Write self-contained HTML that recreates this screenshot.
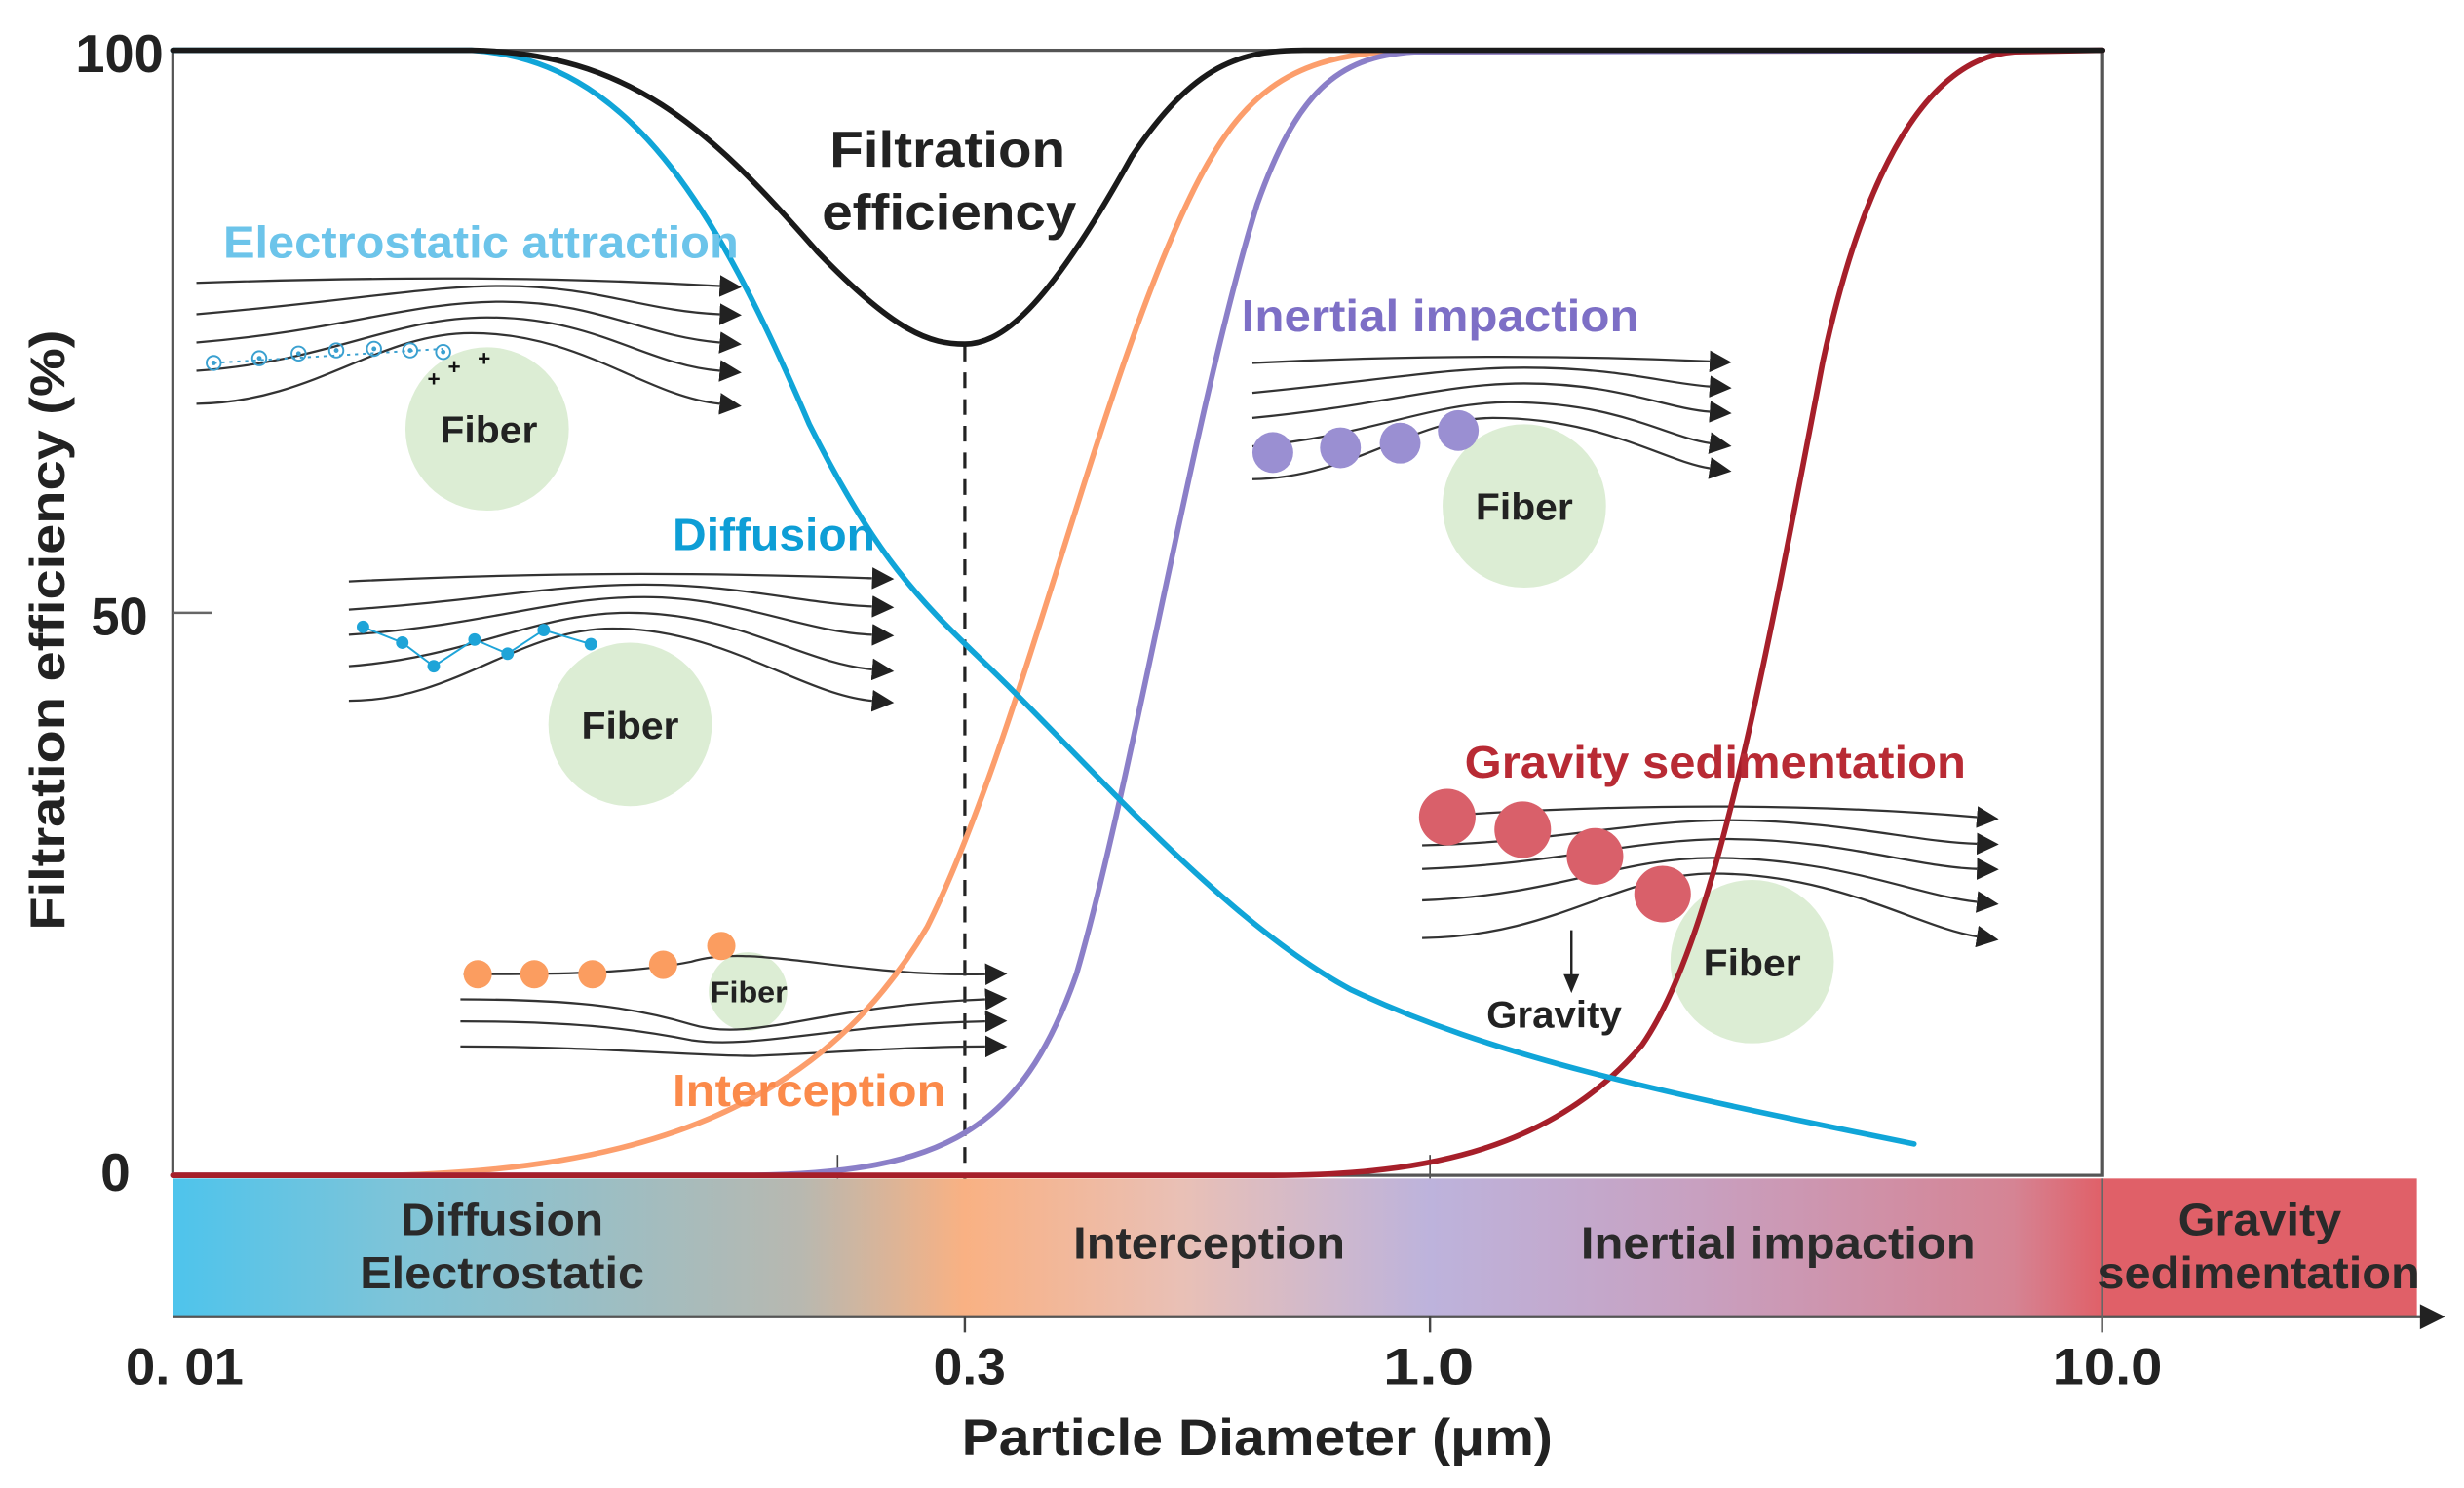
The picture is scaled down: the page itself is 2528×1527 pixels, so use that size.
<!DOCTYPE html>
<html><head><meta charset="utf-8"><style>
html,body{margin:0;padding:0;background:#fff;}
svg{display:block;}
text{font-family:"Liberation Sans",Arial,sans-serif;font-weight:bold;}
</style></head><body>
<svg width="2528" height="1527" viewBox="0 0 1568 947" preserveAspectRatio="none" xmlns="http://www.w3.org/2000/svg">
<defs>
<linearGradient id="bar" x1="110" y1="0" x2="1538" y2="0" gradientUnits="userSpaceOnUse">
<stop offset="0" stop-color="#4ec4ec"/>
<stop offset="0.1" stop-color="#7ec4d8"/>
<stop offset="0.28" stop-color="#b8b8b0"/>
<stop offset="0.353" stop-color="#f9b183"/>
<stop offset="0.45" stop-color="#e9c0b6"/>
<stop offset="0.56" stop-color="#bdb3dc"/>
<stop offset="0.68" stop-color="#c8a0c0"/>
<stop offset="0.82" stop-color="#d58494"/>
<stop offset="0.86" stop-color="#e06068"/>
<stop offset="1" stop-color="#e06068"/>
</linearGradient>
<marker id="ah2" viewBox="0 0 10 10" refX="0" refY="5" markerWidth="14" markerHeight="14" orient="auto" markerUnits="userSpaceOnUse"><path d="M0,0 L10,5 L0,10 z" fill="#222"/></marker>
</defs>

<rect x="110" y="750" width="1428" height="88" fill="url(#bar)"/>
<line x1="110" y1="838" x2="1545" y2="838" stroke="#555" stroke-width="2"/>
<path d="M1540,830 L1556,838 L1540,846 z" fill="#222"/>
<line x1="614" y1="838" x2="614" y2="848" stroke="#444" stroke-width="1.5"/>
<line x1="910" y1="838" x2="910" y2="848" stroke="#444" stroke-width="1.5"/>
<line x1="1338" y1="750" x2="1338" y2="848" stroke="#666" stroke-width="1"/>
<line x1="910" y1="735" x2="910" y2="750" stroke="#444" stroke-width="1"/>
<line x1="533" y1="735" x2="533" y2="750" stroke="#444" stroke-width="1"/>

<rect x="110" y="32" width="1228" height="716" fill="none" stroke="#555" stroke-width="2"/>
<line x1="110" y1="390" x2="135" y2="390" stroke="#666" stroke-width="1.5"/>

<line x1="614" y1="220" x2="614" y2="750" stroke="#222" stroke-width="2" stroke-dasharray="10,7"/>

<circle cx="310" cy="273" r="52" fill="#dcedd4"/>
<circle cx="401" cy="461" r="52" fill="#dcedd4"/>
<circle cx="476" cy="631" r="25" fill="#dcedd4"/>
<circle cx="970" cy="322" r="52" fill="#dcedd4"/>
<circle cx="1115" cy="612" r="52" fill="#dcedd4"/>

<g fill="none" stroke="#333" stroke-width="1.4" marker-end="url(#ah2)">
<path d="M125,180 C250,176 350,176 458,182"/>
<path d="M125,200 C220,192 270,182 320,182 C380,182 410,198 458,200"/>
<path d="M125,218 C220,210 260,192 320,192 C380,192 410,214 458,218"/>
<path d="M125,236 C210,230 250,202 310,202 C380,202 410,232 458,236"/>
<path d="M125,257 C200,256 240,212 300,212 C370,212 410,252 458,257"/>
<path d="M222,370 C350,364 440,364 555,368"/>
<path d="M222,388 C310,382 350,372 410,372 C470,372 510,384 555,386"/>
<path d="M222,404 C310,398 350,380 410,380 C470,380 510,402 555,404"/>
<path d="M222,424 C300,418 340,390 400,390 C470,390 510,422 555,426"/>
<path d="M222,446 C290,446 330,400 390,400 C460,400 510,442 555,446"/>
<path d="M295,620 C350,620 400,620 440,612 C480,600 540,622 627,620"/>
<path d="M293,636 C360,636 400,640 440,652 C480,664 520,640 627,636"/>
<path d="M293,650 C360,650 400,654 440,662 C480,668 530,652 627,650"/>
<path d="M293,666 C380,666 440,672 480,672 C530,670 580,666 627,666"/>
<path d="M797,231 C900,226 1000,226 1088,230"/>
<path d="M797,250 C880,242 920,234 970,234 C1030,234 1060,244 1088,246"/>
<path d="M797,266 C880,258 920,244 970,244 C1030,244 1060,260 1088,262"/>
<path d="M797,284 C870,278 910,256 960,256 C1030,256 1060,278 1088,282"/>
<path d="M797,305 C860,304 900,266 950,266 C1020,266 1060,294 1088,298"/>
<path d="M905,520 C1020,512 1140,510 1258,520"/>
<path d="M905,538 C990,536 1040,522 1100,522 C1170,522 1220,536 1258,537"/>
<path d="M905,553 C990,550 1040,534 1100,534 C1170,534 1220,552 1258,553"/>
<path d="M905,573 C990,570 1030,546 1090,546 C1170,546 1220,570 1258,574"/>
<path d="M905,597 C990,596 1030,556 1090,556 C1170,556 1220,590 1258,596"/>
</g>

<g fill="none" stroke="#3aa0d0" stroke-width="1.2">
<path d="M136,231 L282,222" stroke-dasharray="2,3"/>
<circle cx="136" cy="231" r="4.5"/><circle cx="165" cy="228" r="4.5"/><circle cx="190" cy="225" r="4.5"/><circle cx="214" cy="223" r="4.5"/><circle cx="238" cy="222" r="4.5"/><circle cx="261" cy="223" r="4.5"/><circle cx="282" cy="224" r="4.5"/>
</g>
<g fill="#3aa0d0"><circle cx="136" cy="231" r="1.5"/><circle cx="165" cy="228" r="1.5"/><circle cx="190" cy="225" r="1.5"/><circle cx="214" cy="223" r="1.5"/><circle cx="238" cy="222" r="1.5"/><circle cx="261" cy="223" r="1.5"/><circle cx="282" cy="224" r="1.5"/></g>
<text x="272" y="246" font-size="14" fill="#111">+</text>
<text x="285" y="238" font-size="14" fill="#111">+</text>
<text x="304" y="233" font-size="14" fill="#111">+</text>

<polyline points="231,399 256,409 276,424 302,407 323,416 346,401 376,410" fill="none" stroke="#1ea4d8" stroke-width="1.2"/>
<g fill="#1ea4d8"><circle cx="231" cy="399" r="4"/><circle cx="256" cy="409" r="4"/><circle cx="276" cy="424" r="4"/><circle cx="302" cy="407" r="4"/><circle cx="323" cy="416" r="4"/><circle cx="346" cy="401" r="4"/><circle cx="376" cy="410" r="4"/></g>

<g fill="#fb9d60"><circle cx="304" cy="620" r="9"/><circle cx="340" cy="620" r="9"/><circle cx="377" cy="620" r="9"/><circle cx="422" cy="614" r="9"/><circle cx="459" cy="602" r="9"/></g>
<g fill="#9a8fd2"><circle cx="810" cy="288" r="13"/><circle cx="853" cy="285" r="13"/><circle cx="891" cy="282" r="13"/><circle cx="928" cy="274" r="13"/></g>
<g fill="#d9606a"><circle cx="921" cy="520" r="18"/><circle cx="969" cy="528" r="18"/><circle cx="1015" cy="545" r="18"/><circle cx="1058" cy="569" r="18"/></g>
<line x1="1000" y1="592" x2="1000" y2="624" stroke="#222" stroke-width="1.5"/>
<path d="M995,620 L1000,632 L1005,620 z" fill="#222"/>

<g fill="none" stroke-width="3.5" stroke-linecap="round">
<path d="M110,748 L250,748 C400,744 520,710 590,590 C650,470 700,240 760,120 C790,60 820,38 880,33 L1338,32" stroke="#fc9e6c"/>
<path d="M110,748 L480,748 C600,746 650,720 685,620 C720,500 760,260 800,130 C825,60 850,36 900,33 L1338,32" stroke="#8b7fc8"/>
<path d="M110,748 L810,748 C910,748 990,730 1045,665 C1090,600 1120,440 1160,230 C1190,90 1235,36 1282,33 L1338,32" stroke="#a61f2a"/>
<path d="M110,32 L300,32 C400,38 455,130 515,270 C565,370 595,390 645,440 C705,500 785,590 860,630 C950,672 1050,694 1218,728" stroke="#10a5d8"/>
<path d="M110,32 L300,32 C400,34 450,80 520,160 C570,212 592,219 614,219 C640,219 670,190 720,100 C760,40 790,32 830,32 L1338,32" stroke="#1a1a1a"/>
</g>

<g>
<text x="528" y="106" font-size="32" fill="#222" textLength="150" lengthAdjust="spacingAndGlyphs">Filtration</text>
<text x="523" y="146" font-size="32" fill="#222" textLength="162" lengthAdjust="spacingAndGlyphs">efficiency</text>
<text x="142" y="164" font-size="29" fill="#6cc4ea" textLength="328" lengthAdjust="spacingAndGlyphs">Electrostatic attraction</text>
<text x="280" y="282" font-size="24" fill="#222" textLength="62" lengthAdjust="spacingAndGlyphs">Fiber</text>
<text x="428" y="350" font-size="29" fill="#0d9ed6" textLength="129" lengthAdjust="spacingAndGlyphs">Diffusion</text>
<text x="370" y="470" font-size="24" fill="#222" textLength="62" lengthAdjust="spacingAndGlyphs">Fiber</text>
<text x="452" y="638" font-size="19" fill="#222" textLength="49" lengthAdjust="spacingAndGlyphs">Fiber</text>
<text x="428" y="704" font-size="29" fill="#fb8a4a" textLength="174" lengthAdjust="spacingAndGlyphs">Interception</text>
<text x="790" y="211" font-size="29" fill="#7d6fc6" textLength="253" lengthAdjust="spacingAndGlyphs">Inertial impaction</text>
<text x="939" y="331" font-size="24" fill="#222" textLength="62" lengthAdjust="spacingAndGlyphs">Fiber</text>
<text x="932" y="495" font-size="29" fill="#b82a34" textLength="319" lengthAdjust="spacingAndGlyphs">Gravity sedimentation</text>
<text x="1084" y="621" font-size="24" fill="#222" textLength="62" lengthAdjust="spacingAndGlyphs">Fiber</text>
<text x="946" y="654" font-size="24" fill="#222" textLength="86" lengthAdjust="spacingAndGlyphs">Gravity</text>

<text x="255" y="786" font-size="29" fill="#2a2a2a" textLength="129" lengthAdjust="spacingAndGlyphs">Diffusion</text>
<text x="229" y="820" font-size="29" fill="#2a2a2a" textLength="181" lengthAdjust="spacingAndGlyphs">Electrostatic</text>
<text x="683" y="801" font-size="29" fill="#2a2a2a" textLength="173" lengthAdjust="spacingAndGlyphs">Interception</text>
<text x="1006" y="801" font-size="29" fill="#2a2a2a" textLength="251" lengthAdjust="spacingAndGlyphs">Inertial impaction</text>
<text x="1386" y="786" font-size="29" fill="#2a2a2a" textLength="104" lengthAdjust="spacingAndGlyphs">Gravity</text>
<text x="1335" y="820" font-size="29" fill="#2a2a2a" textLength="205" lengthAdjust="spacingAndGlyphs">sedimentation</text>

<text x="48" y="46" font-size="34" fill="#222" textLength="56" lengthAdjust="spacingAndGlyphs">100</text>
<text x="58" y="404" font-size="34" fill="#222" textLength="36" lengthAdjust="spacingAndGlyphs">50</text>
<text x="64" y="758" font-size="34" fill="#222" textLength="19" lengthAdjust="spacingAndGlyphs">0</text>
<text x="80" y="881" font-size="33" fill="#222" textLength="75" lengthAdjust="spacingAndGlyphs">0. 01</text>
<text x="594" y="881" font-size="33" fill="#222" textLength="46" lengthAdjust="spacingAndGlyphs">0.3</text>
<text x="880" y="881" font-size="33" fill="#222" textLength="58" lengthAdjust="spacingAndGlyphs">1.0</text>
<text x="1306" y="881" font-size="33" fill="#222" textLength="70" lengthAdjust="spacingAndGlyphs">10.0</text>
<text x="612" y="926" font-size="33" fill="#222" textLength="376" lengthAdjust="spacingAndGlyphs">Particle Diameter (μm)</text>
<text transform="translate(41,592) rotate(-90)" x="0" y="0" font-size="31" fill="#222" textLength="382" lengthAdjust="spacingAndGlyphs">Filtration efficiency (%)</text>
</g>
</svg>
</body></html>
